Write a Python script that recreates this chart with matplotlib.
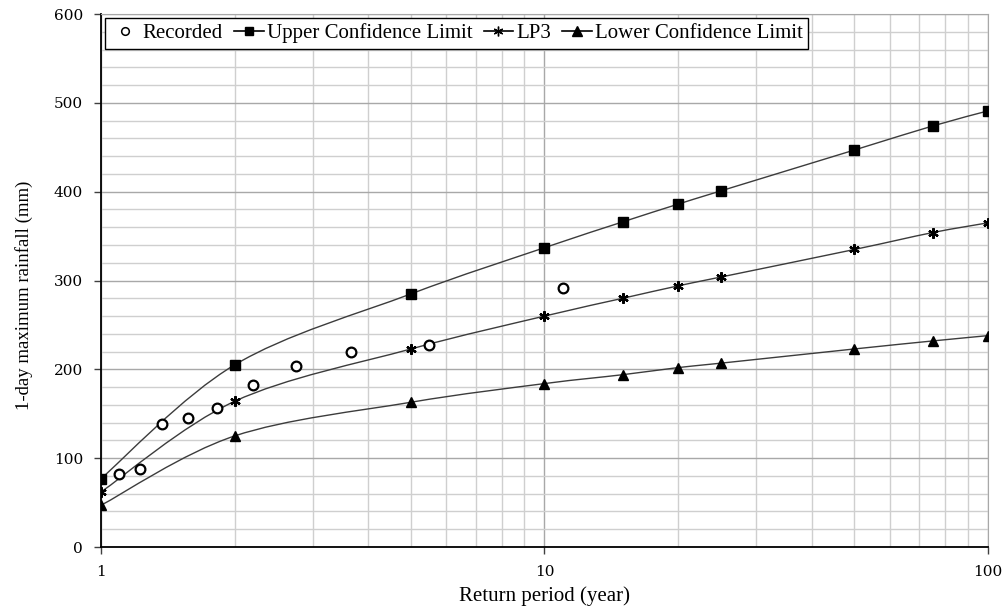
import numpy as np
import matplotlib
matplotlib.use("Agg")
import matplotlib.pyplot as plt
from matplotlib.path import Path
from matplotlib.patches import PathPatch
from matplotlib.ticker import FixedLocator, NullFormatter, MultipleLocator, FixedFormatter

plt.rcParams['font.family'] = ['Liberation Serif', 'DejaVu Serif']

# ---- data ----
return_period = [1, 2, 5, 10, 15, 20, 25, 50, 75, 100]
upper_cl = [77, 205, 285, 337, 366, 386, 401, 447, 474, 491]
lp3 = [62, 164, 223, 260, 280, 294, 304, 335, 354, 365]
lower_cl = [47, 125, 163, 184, 194, 202, 207, 223, 232, 238]

recorded_T = [11.0, 5.5, 3.67, 2.75, 2.2, 1.83, 1.57, 1.375, 1.222, 1.1]
recorded_P = [292, 227, 220, 204, 182, 157, 145, 139, 88, 82]

x_ticks = [1, 10, 100]
x_ticklabels = ["1", "10", "100"]

LINE_C = '#3c3c3c'


def smooth_path(xs, ys):
    """Excel-like smoothed line (Catmull-Rom Bezier) in (log10 x, y) space."""
    u = np.log10(np.asarray(xs, float))
    v = np.asarray(ys, float)
    n = len(u)
    verts = [(xs[0], ys[0])]
    codes = [Path.MOVETO]
    for i in range(n - 1):
        i0 = max(i - 1, 0)
        i3 = min(i + 2, n - 1)
        c1u = u[i] + (u[i + 1] - u[i0]) / 6.0
        c1v = v[i] + (v[i + 1] - v[i0]) / 6.0
        c2u = u[i + 1] - (u[i3] - u[i]) / 6.0
        c2v = v[i + 1] - (v[i3] - v[i]) / 6.0
        verts += [(10 ** c1u, c1v), (10 ** c2u, c2v), (xs[i + 1], ys[i + 1])]
        codes += [Path.CURVE4] * 3
    return Path(verts, codes)


fig = plt.figure(figsize=(10.06, 6.07), dpi=100)
ax = fig.add_axes([0.1004, 0.0988, 0.8817, 0.878])
ax.set_xscale('log')
ax.set_xlim(1, 100)
ax.set_ylim(0, 600)

# grid
ax.xaxis.set_major_locator(FixedLocator(x_ticks))
ax.xaxis.set_major_formatter(FixedFormatter(x_ticklabels))
minor_x = [m * d for d in (1, 10) for m in range(2, 10)]
ax.xaxis.set_minor_locator(FixedLocator(minor_x))
ax.xaxis.set_minor_formatter(NullFormatter())
ax.yaxis.set_major_locator(MultipleLocator(100))
ax.yaxis.set_minor_locator(MultipleLocator(20))
ax.grid(which='major', color='#a8a8a8', lw=1.0)
ax.grid(which='minor', color='#cfcfcf', lw=1.0)
ax.set_axisbelow(True)
ax.tick_params(which='minor', length=0)
ax.tick_params(which='major', length=5, direction='out', width=1, color='#404040', pad=8,
               labelsize=11, labelfontfamily='DejaVu Serif')

for s in ('top', 'right'):
    ax.spines[s].set_color('#a8a8a8')
for s in ('left', 'bottom'):
    ax.spines[s].set_color('black')
    ax.spines[s].set_linewidth(1.3)

# smoothed lines
for ys in (upper_cl, lp3, lower_cl):
    ax.add_patch(PathPatch(smooth_path(return_period, ys), fill=False, edgecolor=LINE_C, lw=1.0, zorder=3))

ax.plot(recorded_T, recorded_P, ls='none', marker='o', ms=7, mfc='white', mec='black', mew=1.6,
        zorder=4)
ax.plot(return_period, upper_cl, ls='none', marker='s', ms=7, color='black', zorder=4)
ax.plot(return_period, lp3, ls='none', marker=(6, 2, 0), ms=7.5, color='black', mew=1.6, zorder=4)
ax.plot(return_period, lower_cl, ls='none', marker='^', ms=7.5, color='black', zorder=4)

# legend proxies (line + marker)
h_rec = plt.Line2D([], [], ls='none', marker='o', ms=5.5, mfc='white', mec='black', mew=1.1)
h_up = plt.Line2D([], [], color='black', lw=1.2, marker='s', ms=6)
h_lp = plt.Line2D([], [], color='black', lw=1.2, marker=(6, 2, 0), ms=7, mew=1.0)
h_lo = plt.Line2D([], [], color='black', lw=1.2, marker='^', ms=6.5)
leg = ax.legend([h_rec, h_up, h_lp, h_lo],
                ['Recorded', 'Upper Confidence Limit', 'LP3', 'Lower Confidence Limit'],
                loc='upper left', bbox_to_anchor=(0.0, 1.0), borderaxespad=0.2, ncol=4, fontsize=15,
                frameon=True, fancybox=False, edgecolor='black', framealpha=1,
                handlelength=1.4, handletextpad=0.15, columnspacing=0.55, borderpad=0.25)
leg.get_frame().set_linewidth(1.0)

ax.set_xlabel('Return period (year)', fontsize=15, labelpad=5)
ax.set_ylabel('1-day maximum rainfall (mm)', fontsize=13.5)
ax.yaxis.set_label_coords(-0.077, 0.473)

fig.savefig('out.png', dpi=100)
